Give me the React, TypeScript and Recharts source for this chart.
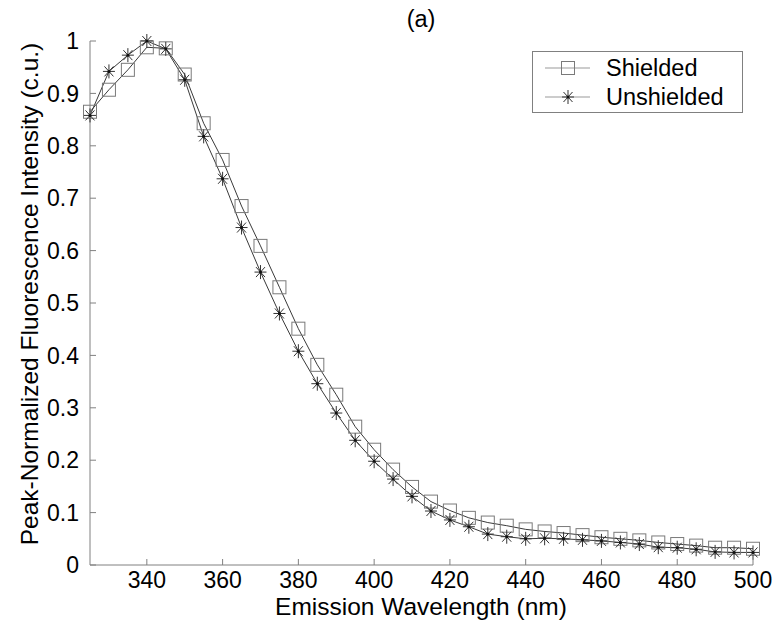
import React from 'react';
import {
  LineChart,
  Line,
  XAxis,
  YAxis,
  Legend,
  Customized,
} from 'recharts';

// emission wavelength (nm)
const wavelengths = [
  325, 330, 335, 340, 345, 350, 355, 360, 365, 370, 375, 380, 385, 390, 395, 400, 405, 410,
  415, 420, 425, 430, 435, 440, 445, 450, 455, 460, 465, 470, 475, 480, 485, 490, 495, 500,
];

const shielded = [
  0.865, 0.907, 0.945, 0.988, 0.986, 0.936, 0.843, 0.773, 0.685, 0.609, 0.53, 0.451, 0.382,
  0.325, 0.264, 0.22, 0.182, 0.149, 0.121, 0.104, 0.09, 0.081, 0.075, 0.068, 0.064, 0.061,
  0.057, 0.053, 0.05, 0.047, 0.043, 0.04, 0.037, 0.033, 0.033, 0.031,
];

const unshielded = [
  0.858, 0.942, 0.973, 1.0, 0.985, 0.926, 0.818, 0.737, 0.644, 0.559, 0.48, 0.408, 0.346,
  0.29, 0.238, 0.198, 0.164, 0.131, 0.103, 0.086, 0.073, 0.059, 0.054, 0.05, 0.051, 0.05,
  0.048, 0.046, 0.043, 0.04, 0.034, 0.033, 0.03, 0.025, 0.024, 0.024,
];

const xTicks = [340, 360, 380, 400, 420, 440, 460, 480, 500];
const yTicks = [0, 0.1, 0.2, 0.3, 0.4, 0.5, 0.6, 0.7, 0.8, 0.9, 1];

const data = wavelengths.map((wl, i) => ({
  wl,
  shielded: shielded[i],
  unshielded: unshielded[i],
}));

const FONT = '"Liberation Sans", Arial, sans-serif';
const AXIS = '#808080';

function SquareMark({ cx, cy }: { cx?: number; cy?: number }) {
  if (cx == null || cy == null) return null;
  return (
    <rect x={cx - 6.5} y={cy - 6.5} width={13} height={13} fill="none" stroke="#7a7a7a" strokeWidth={1} />
  );
}

function StarMark({ cx, cy }: { cx?: number; cy?: number }) {
  if (cx == null || cy == null) return null;
  return (
    <g stroke="#333" strokeWidth={1}>
      <line x1={cx - 6} y1={cy} x2={cx + 6} y2={cy} />
      <line x1={cx} y1={cy - 7} x2={cx} y2={cy + 7} />
      <line x1={cx - 4.5} y1={cy - 5} x2={cx + 4.5} y2={cy + 5} />
      <line x1={cx - 4.5} y1={cy + 5} x2={cx + 4.5} y2={cy - 5} />
      <circle cx={cx} cy={cy} r={1.5} fill="#111" stroke="none" />
    </g>
  );
}

function LegendBox() {
  const rows = [
    { name: 'Shielded', Mark: SquareMark },
    { name: 'Unshielded', Mark: StarMark },
  ];
  return (
    <svg width={211} height={62} style={{ display: 'block' }}>
      <rect x={0.5} y={0.5} width={210} height={61} fill="#fff" stroke={AXIS} />
      {rows.map(({ name, Mark }, i) => {
        const y = 17 + i * 29;
        return (
          <g key={name}>
            <line x1={13} y1={y} x2={58} y2={y} stroke="#999" strokeWidth={1} />
            <Mark cx={36} cy={y} />
            <text x={74} y={y + 8} fontSize={23.5} fontFamily={FONT} fill="#000">
              {name}
            </text>
          </g>
        );
      })}
    </svg>
  );
}

function Labels() {
  return (
    <g fontFamily={FONT} fill="#000">
      <text x={421} y={27} fontSize={23.5} textAnchor="middle">
        (a)
      </text>
      <text x={421} y={615} fontSize={24.5} textAnchor="middle">
        Emission Wavelength (nm)
      </text>
      <text x={38} y={294} fontSize={24.5} textAnchor="middle" transform="rotate(-90, 38, 294)">
        Peak-Normalized Fluorescence Intensity (c.u.)
      </text>
    </g>
  );
}

export default function App() {
  const tickStyle = { fontSize: 23, fontFamily: FONT, fill: '#000' };
  return (
    <div style={{ position: 'absolute', left: 0, top: 0, background: '#fff' }}>
      <LineChart
        width={784}
        height={640}
        data={data}
        margin={{ top: 41, right: 31, left: 0, bottom: 0 }}
      >
        <XAxis
          dataKey="wl"
          type="number"
          domain={[325, 500]}
          ticks={xTicks}
          height={75}
          tickSize={-6}
          tickMargin={13}
          stroke={AXIS}
          tick={tickStyle}
          interval={0}
        />
        <XAxis
          xAxisId="top"
          orientation="top"
          dataKey="wl"
          type="number"
          domain={[325, 500]}
          ticks={xTicks}
          height={0}
          tickSize={-6}
          stroke={AXIS}
          tick={false}
        />
        <YAxis
          type="number"
          domain={[0, 1]}
          ticks={yTicks}
          width={90}
          tickSize={-6}
          tickMargin={17}
          stroke={AXIS}
          tick={tickStyle}
          interval={0}
        />
        <YAxis
          yAxisId="right"
          orientation="right"
          type="number"
          domain={[0, 1]}
          ticks={yTicks}
          width={0}
          tickSize={-6}
          stroke={AXIS}
          tick={false}
        />
        <Line
          type="linear"
          dataKey="shielded"
          name="Shielded"
          stroke="#3a3a3a"
          strokeWidth={1}
          dot={(p: any) => <SquareMark key={`s-${p.index}`} cx={p.cx} cy={p.cy} />}
          isAnimationActive={false}
        />
        <Line
          type="linear"
          dataKey="unshielded"
          name="Unshielded"
          stroke="#3a3a3a"
          strokeWidth={1}
          dot={(p: any) => <StarMark key={`u-${p.index}`} cx={p.cx} cy={p.cy} />}
          isAnimationActive={false}
        />
        <Legend
          layout="horizontal"
          verticalAlign="middle"
          align="center"
          wrapperStyle={{ left: 532, top: 51, width: 211, height: 62 }}
          content={() => <LegendBox />}
        />
        <Customized component={Labels} />
      </LineChart>
    </div>
  );
}
